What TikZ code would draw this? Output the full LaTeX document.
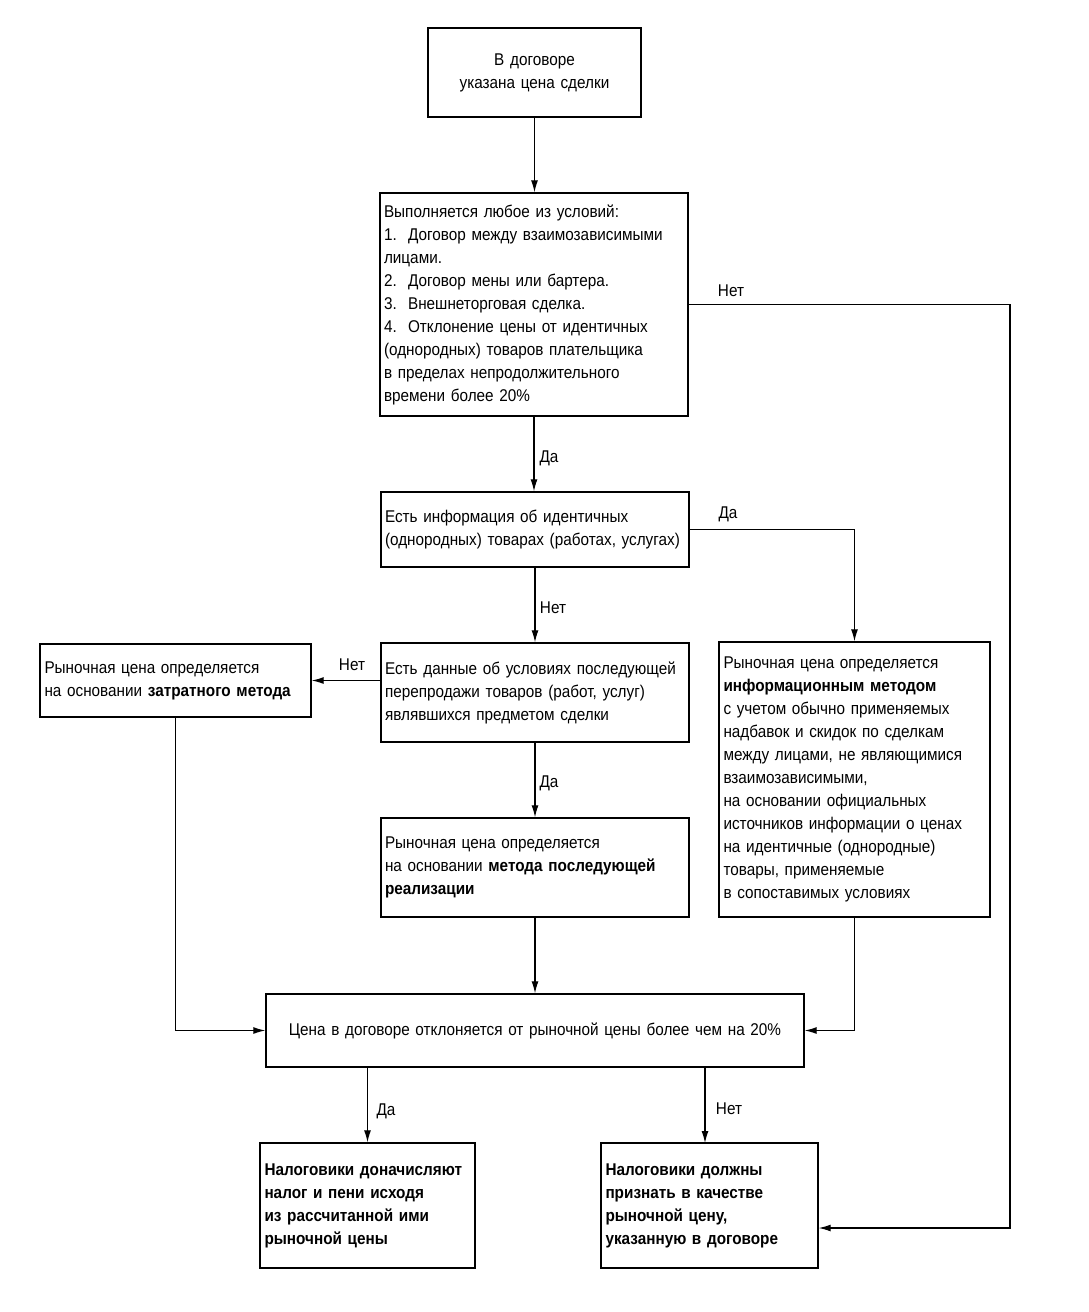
\documentclass[tikz,border=0pt]{standalone}
\usepackage{fontspec}
\setmainfont{Liberation Sans}[FakeStretch=0.9]
\usetikzlibrary{arrows.meta,calc}
\begin{document}
\begin{tikzpicture}[x=1pt,y=-1pt,
  every node/.style={font=\fontsize{17}{23}\selectfont},
  box/.style={draw, line width=1.4pt, inner xsep=4pt, inner ysep=5pt, align=left, anchor=center},
  arr/.style={line width=1.2pt, -{Latex[length=12pt,width=7pt]}},
  lbl/.style={inner sep=1pt}]
\useasboundingbox[fill=white] (0,0) rectangle (1089,1312);

\node[box, align=center, minimum width=213pt, minimum height=89pt, text width=203pt] (b1) at (534.5,72.5)
  {В договоре\\указана цена сделки};
\node[box, minimum width=308pt, minimum height=223pt, text width=300pt] (b2) at (534,304.5)
  {Выполняется любое из условий:\\
   1.\ \ Договор между взаимозависимыми\\лицами.\\
   2.\ \ Договор мены или бартера.\\
   3.\ \ Внешнеторговая сделка.\\
   4.\ \ Отклонение цены от идентичных\\(однородных) товаров плательщика\\
   в пределах непродолжительного\\времени более 20\%};
\node[box, minimum width=308pt, minimum height=75pt, text width=300pt] (b3) at (535,529.5)
  {Есть информация об идентичных\\(однородных) товарах (работах,\ услугах)};
\node[box, minimum width=271pt, minimum height=73pt, text width=262pt] (b4) at (175.5,680.5)
  {Рыночная цена определяется\\на основании \textbf{затратного метода}};
\node[box, minimum width=308pt, minimum height=99pt, text width=300pt] (b5) at (535,692.5)
  {Есть данные об условиях последующей\\перепродажи товаров (работ, услуг)\\являвшихся предметом сделки};
\node[box, minimum width=271pt, minimum height=275pt, text width=262pt] (b6) at (854.5,779.5)
  {Рыночная цена определяется\\\textbf{информационным методом}\\
   с учетом обычно применяемых\\надбавок и скидок по сделкам\\
   между лицами, не являющимися\\взаимозависимыми,\\
   на основании официальных\\источников информации о ценах\\
   на идентичные (однородные)\\товары, применяемые\\в сопоставимых условиях};
\node[box, minimum width=308pt, minimum height=99pt, text width=300pt] (b7) at (535,867.5)
  {Рыночная цена определяется\\на основании \textbf{метода последующей}\\\textbf{реализации}};
\node[box, align=center, minimum width=538pt, minimum height=73pt, text width=528pt] (b8) at (535,1030.5)
  {Цена в договоре отклоняется от рыночной цены более чем на 20\%};
\node[box, minimum width=215pt, minimum height=125pt, text width=206pt, font=\fontsize{17}{23}\selectfont\bfseries] (b9) at (367.5,1205.5)
  {Налоговики доначисляют\\налог и пени исходя\\из рассчитанной ими\\рыночной цены};
\node[box, minimum width=217pt, minimum height=125pt, text width=208pt, font=\fontsize{17}{23}\selectfont\bfseries] (b10) at (709.5,1205.5)
  {Налоговики должны\\признать в качестве\\рыночной цену,\\указанную в договоре};

\coordinate (r1) at (1010,304.5);
\coordinate (r2) at (1010,1228);
\coordinate (t10) at (705,1143);

\draw[arr] (b1.south) -- (b1.south |- b2.north);
\draw[arr] (b2.south) -- (b2.south |- b3.north);
\draw[arr] (b2.east) -- (r1) -- (r2) -- (b10.east |- r2);
\draw[arr] (b3.east) -| (b6.north);
\draw[arr] (b3.south) -- (b3.south |- b5.north);
\draw[arr] (b4.east -| b5.west) -- (b4.east);
\draw[arr] (b5.south) -- (b7.north);
\draw[arr] (b7.south) -- (b8.north);
\draw[arr] (b4.south) |- (b8.west);
\draw[arr] (b6.south) |- (b8.east);
\draw[arr] (b9.north |- b8.south) -- (b9.north);
\draw[arr] (t10 |- b8.south) -- (t10);

\node[lbl] (l1) at (731,291) {Нет};
\node[lbl] (l2) at (549,458) {Да};
\node[lbl] (l3) at (728,514) {Да};
\node[lbl] (l4) at (553,608) {Нет};
\node[lbl] (l5) at (352,665) {Нет};
\node[lbl] (l6) at (549,783) {Да};
\node[lbl] (l7) at (386,1111) {Да};
\node[lbl] (l8) at (729,1109) {Нет};
\end{tikzpicture}
\end{document}
